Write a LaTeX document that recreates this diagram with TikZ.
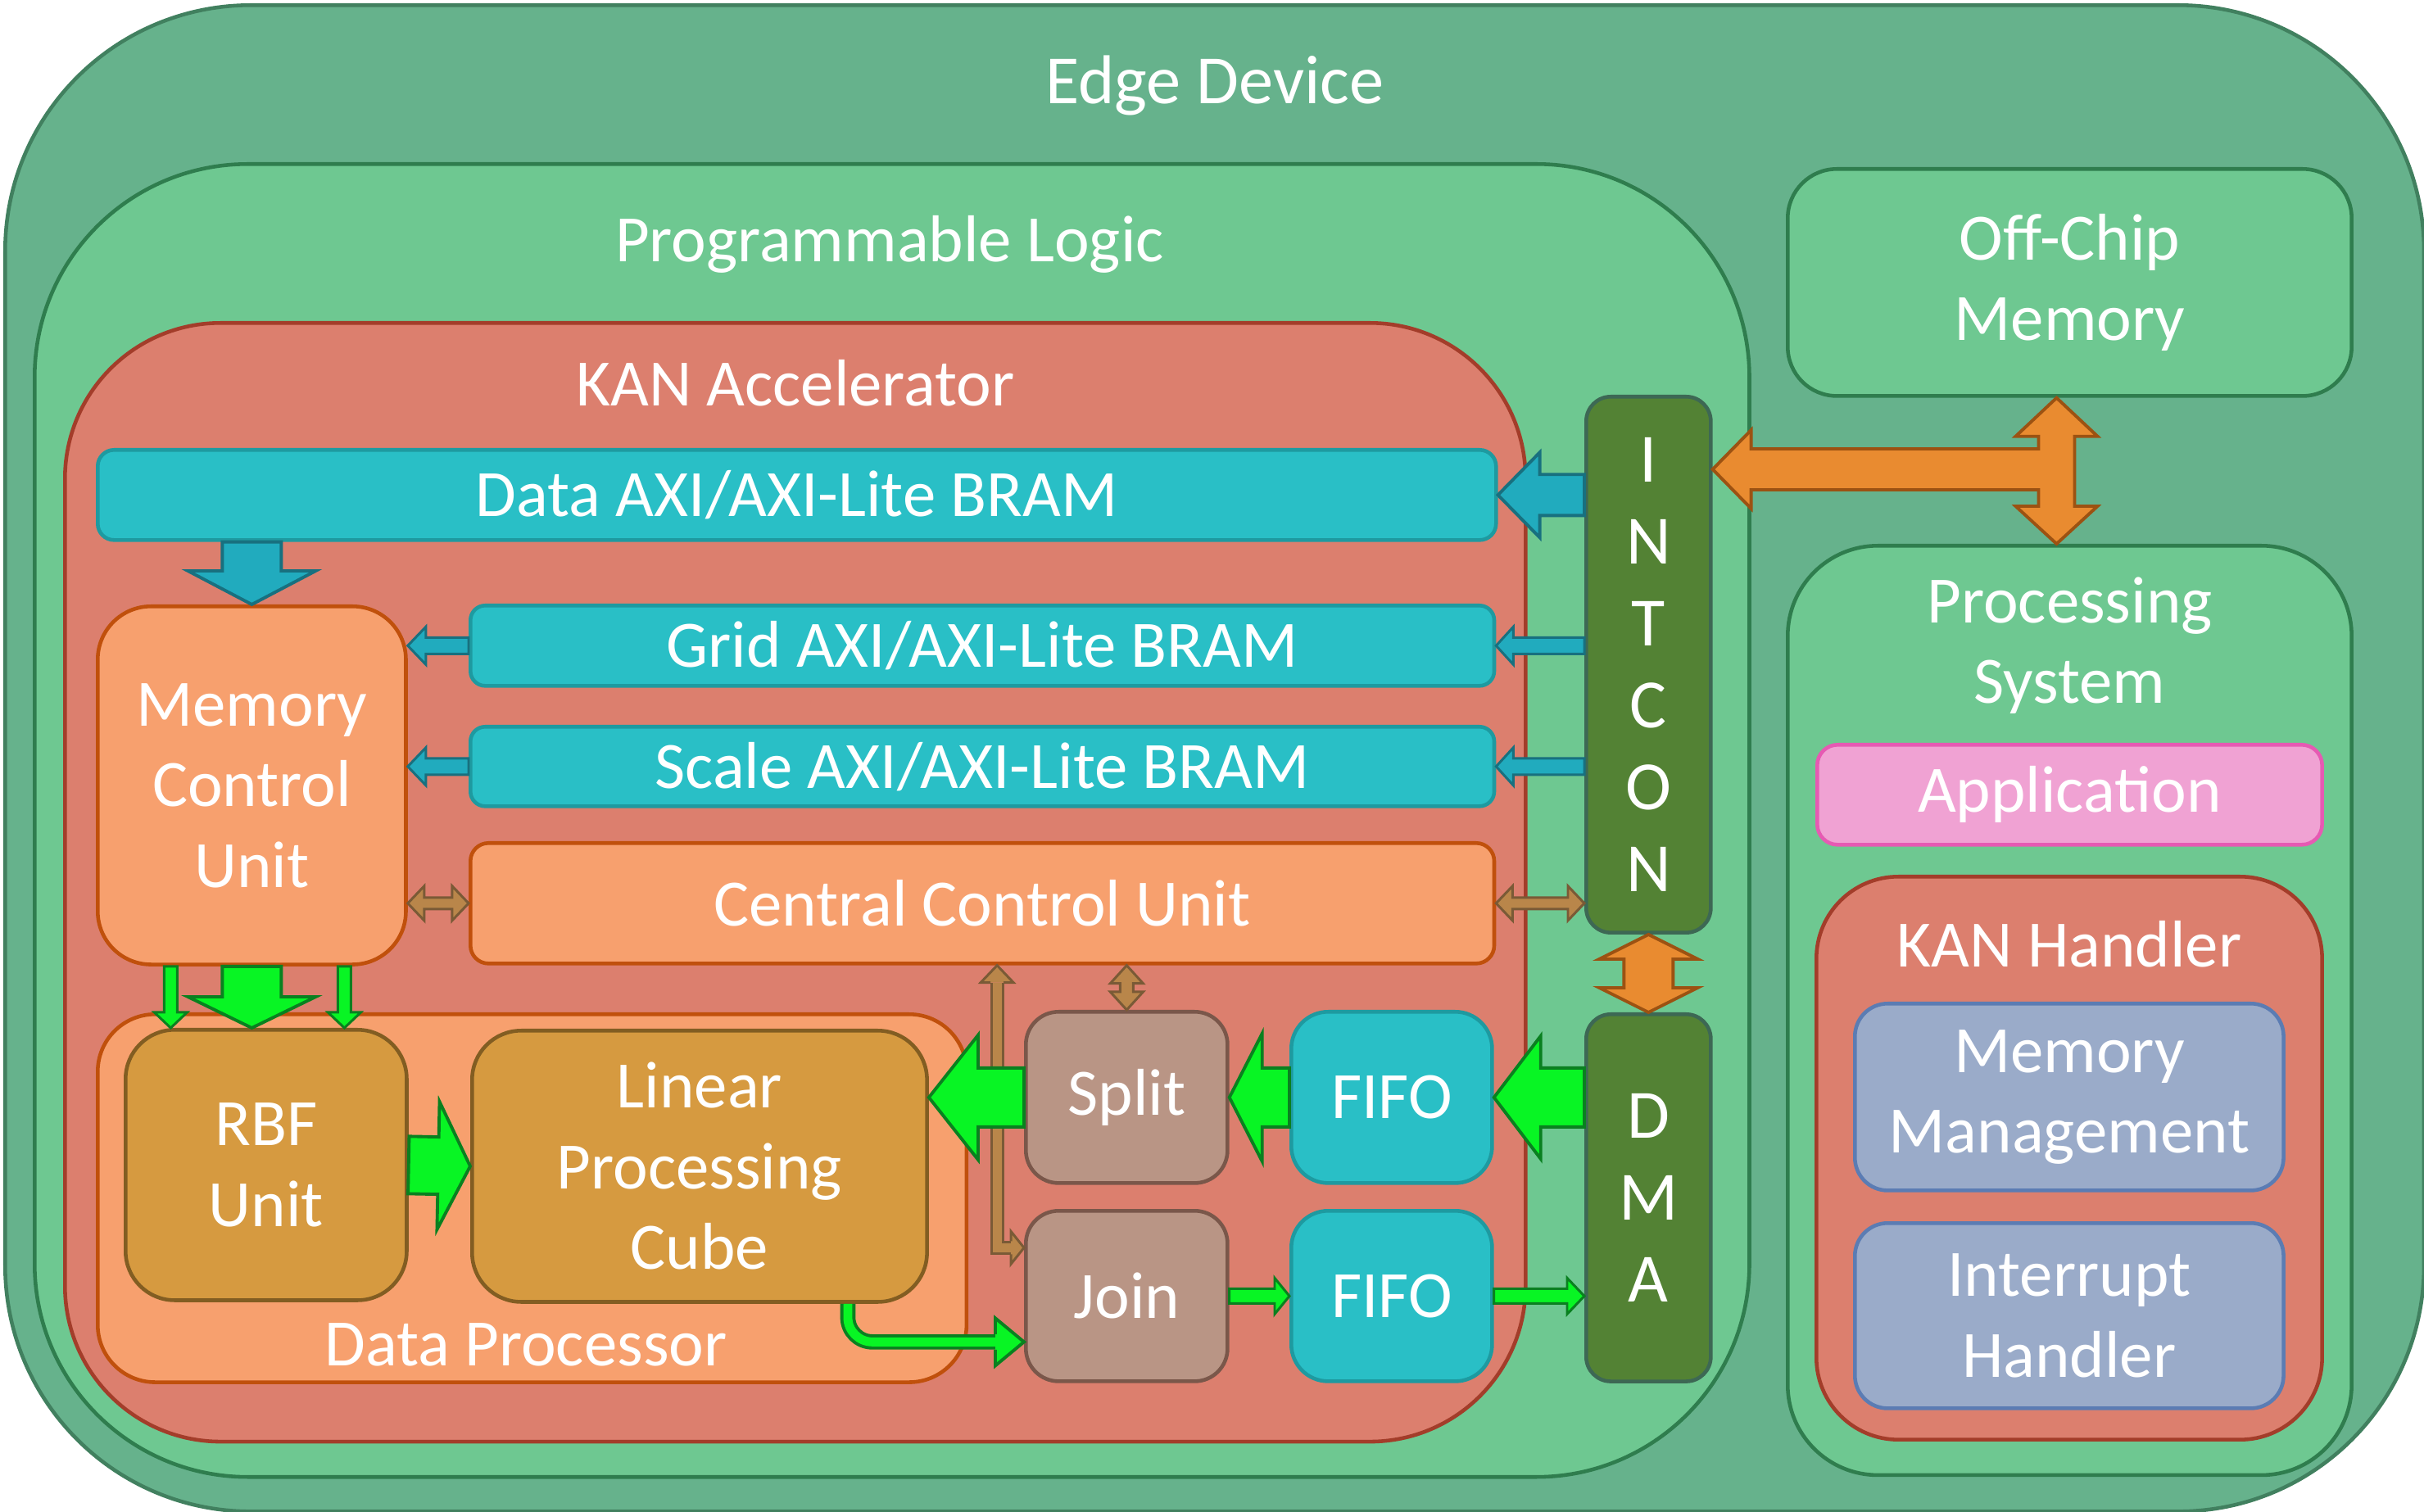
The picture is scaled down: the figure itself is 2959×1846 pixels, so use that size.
\documentclass[tikz,border=0pt]{standalone}
\usepackage{fontspec}
\setmainfont{Carlito}
\usepackage{tikz}
\usetikzlibrary{calc, positioning}

\definecolor{edgeFill}{HTML}{66B28C}
\definecolor{edgeLine}{HTML}{41805F}
\definecolor{plFill}{HTML}{6EC891}
\definecolor{plLine}{HTML}{2F7D4E}
\definecolor{kanFill}{HTML}{DC7F6E}
\definecolor{kanLine}{HTML}{A33D2A}
\definecolor{bramFill}{HTML}{29BFC6}
\definecolor{bramLine}{HTML}{1E9AA0}
\definecolor{ctrlFill}{HTML}{F7A06E}
\definecolor{ctrlLine}{HTML}{C0500C}
\definecolor{busFill}{HTML}{538234}
\definecolor{busLine}{HTML}{3D6854}
\definecolor{peFill}{HTML}{D69A40}
\definecolor{peLine}{HTML}{825D22}
\definecolor{sjFill}{HTML}{B99585}
\definecolor{sjLine}{HTML}{7A574A}
\definecolor{appFill}{HTML}{F0A2D3}
\definecolor{appLine}{HTML}{E65AB3}
\definecolor{drvFill}{HTML}{9AABC9}
\definecolor{drvLine}{HTML}{5B7CB3}
\definecolor{blueFill}{HTML}{21ABBE}
\definecolor{blueLine}{HTML}{18707F}
\definecolor{greenFill}{HTML}{08F524}
\definecolor{greenLine}{HTML}{0A8020}
\definecolor{brownFill}{HTML}{B9864A}
\definecolor{brownLine}{HTML}{7A5A36}
\definecolor{orangeFill}{HTML}{E98B30}
\definecolor{orangeLine}{HTML}{9C5212}

\newcommand{\lblfont}{\fontsize{23}{28}\selectfont}
\def\pxu{0.28453}

\tikzset{
  box/.style={draw, rectangle, anchor=north west, inner sep=0pt, line width=1.3pt,
    text=white, align=center, font=\lblfont},
  lbl/.style={text=white, align=center, inner sep=0pt, font=\lblfont},
  arr/.style={line width=1.1pt, line join=miter},
  thinarr/.style={line width=0.85pt, line join=miter},
  blueArr/.style={arr, fill=blueFill, draw=blueLine},
  greenArr/.style={arr, fill=greenFill, draw=greenLine},
  brownArr/.style={thinarr, fill=brownFill, draw=brownLine},
  orangeArr/.style={arr, fill=orangeFill, draw=orangeLine}
}

% block arrow: [style]{from}{tip}{shaft half width}{head half width}{head length}, sizes in px
\newcommand{\blockarrow}[6][]{%
  \filldraw[#1] let \p1=(#2), \p2=(#3),
      \n1={veclen(\x2-\x1,\y2-\y1)},
      \n2={(\x2-\x1)/(\n1)}, \n3={(\y2-\y1)/(\n1)},
      \n4={#4*\pxu}, \n5={#5*\pxu}, \n6={#6*\pxu} in
    ({\x1-(\n3)*(\n4)}, {\y1+(\n2)*(\n4)})
    -- ({\x2-(\n2)*(\n6)-(\n3)*(\n4)}, {\y2-(\n3)*(\n6)+(\n2)*(\n4)})
    -- ({\x2-(\n2)*(\n6)-(\n3)*(\n5)}, {\y2-(\n3)*(\n6)+(\n2)*(\n5)})
    -- (\p2)
    -- ({\x2-(\n2)*(\n6)+(\n3)*(\n5)}, {\y2-(\n3)*(\n6)-(\n2)*(\n5)})
    -- ({\x2-(\n2)*(\n6)+(\n3)*(\n4)}, {\y2-(\n3)*(\n6)-(\n2)*(\n4)})
    -- ({\x1+(\n3)*(\n4)}, {\y1-(\n2)*(\n4)}) -- cycle;}

% double headed block arrow: [style]{tip one}{tip two}{shaft}{head}{head length}
\newcommand{\dblockarrow}[6][]{%
  \filldraw[#1] let \p1=(#2), \p2=(#3),
      \n1={veclen(\x2-\x1,\y2-\y1)},
      \n2={(\x2-\x1)/(\n1)}, \n3={(\y2-\y1)/(\n1)},
      \n4={#4*\pxu}, \n5={#5*\pxu}, \n6={#6*\pxu} in
    (\p1)
    -- ({\x1+(\n2)*(\n6)-(\n3)*(\n5)}, {\y1+(\n3)*(\n6)+(\n2)*(\n5)})
    -- ({\x1+(\n2)*(\n6)-(\n3)*(\n4)}, {\y1+(\n3)*(\n6)+(\n2)*(\n4)})
    -- ({\x2-(\n2)*(\n6)-(\n3)*(\n4)}, {\y2-(\n3)*(\n6)+(\n2)*(\n4)})
    -- ({\x2-(\n2)*(\n6)-(\n3)*(\n5)}, {\y2-(\n3)*(\n6)+(\n2)*(\n5)})
    -- (\p2)
    -- ({\x2-(\n2)*(\n6)+(\n3)*(\n5)}, {\y2-(\n3)*(\n6)-(\n2)*(\n5)})
    -- ({\x2-(\n2)*(\n6)+(\n3)*(\n4)}, {\y2-(\n3)*(\n6)-(\n2)*(\n4)})
    -- ({\x1+(\n2)*(\n6)+(\n3)*(\n4)}, {\y1+(\n3)*(\n6)-(\n2)*(\n4)})
    -- ({\x1+(\n2)*(\n6)+(\n3)*(\n5)}, {\y1+(\n3)*(\n6)-(\n2)*(\n5)})
    -- cycle;}

% open head for bent arrows: [style]{base}{tip}{shaft}{head}
\newcommand{\arrowhead}[5][]{%
  \path[#1, draw=none] let \p1=(#2), \p2=(#3),
      \n1={veclen(\x2-\x1,\y2-\y1)},
      \n2={(\x2-\x1)/(\n1)}, \n3={(\y2-\y1)/(\n1)},
      \n4={#4*\pxu}, \n5={#5*\pxu} in
    ({\x1-(\n3)*(\n4)}, {\y1+(\n2)*(\n4)}) -- ({\x1-(\n3)*(\n5)}, {\y1+(\n2)*(\n5)})
    -- (\p2) -- ({\x1+(\n3)*(\n5)}, {\y1-(\n2)*(\n5)})
    -- ({\x1+(\n3)*(\n4)}, {\y1-(\n2)*(\n4)}) -- cycle;
  \path[#1, fill=none] let \p1=(#2), \p2=(#3),
      \n1={veclen(\x2-\x1,\y2-\y1)},
      \n2={(\x2-\x1)/(\n1)}, \n3={(\y2-\y1)/(\n1)},
      \n4={#4*\pxu}, \n5={#5*\pxu} in
    ({\x1-(\n3)*(\n4)}, {\y1+(\n2)*(\n4)}) -- ({\x1-(\n3)*(\n5)}, {\y1+(\n2)*(\n5)})
    -- (\p2) -- ({\x1+(\n3)*(\n5)}, {\y1-(\n2)*(\n5)})
    -- ({\x1+(\n3)*(\n4)}, {\y1-(\n2)*(\n4)});}

\begin{document}
\begin{tikzpicture}[x=0.01cm, y=-0.01cm]
  \useasboundingbox (0,0) rectangle (2959,1846);

  % containers
  \node[box, fill=edgeFill, draw=edgeLine, rounded corners=3cm,
        minimum width=29.51cm, minimum height=18.38cm] (edge) at (4,4) {};
  \node[lbl, font=\fontsize{24}{28}\selectfont] (edgeLbl) at ($(edge.north)+(0,100)$) {Edge Device};

  \node[box, fill=plFill, draw=plLine, rounded corners=2.6cm,
        minimum width=20.92cm, minimum height=16.02cm] (pl) at (40,198) {};
  \node[lbl] (plLbl) at ($(pl.north)+(-3,100)$) {Programmable Logic};

  \node[box, fill=kanFill, draw=kanLine, rounded corners=1.9cm,
        minimum width=17.82cm, minimum height=13.65cm] (kan) at (77,392) {};
  \node[lbl] (kanLbl) at ($(kan.north)+(0,76)$) {KAN Accelerator};

  \node[box, fill=plFill, draw=plLine, rounded corners=0.6cm,
        minimum width=6.88cm, minimum height=2.77cm] (offchip) at (2180,204) {Off-Chip\\Memory};

  \node[box, fill=plFill, draw=plLine, rounded corners=1.1cm,
        minimum width=6.88cm, minimum height=11.34cm] (ps) at (2180,664) {};
  \node[lbl] (psLbl) at ($(ps.north)+(0,124)$) {Processing\\System};
  \node[box, fill=appFill, draw=appLine, rounded corners=0.25cm,
        minimum width=6.16cm, minimum height=1.22cm] (app) at (2216,907) {Application};
  \node[box, fill=kanFill, draw=kanLine, rounded corners=1cm,
        minimum width=6.17cm, minimum height=6.87cm] (handler) at (2215,1068) {};
  \node[lbl] (handlerLbl) at ($(handler.north)+(0,85)$) {KAN Handler};
  \node[box, fill=drvFill, draw=drvLine, rounded corners=0.4cm,
        minimum width=5.23cm, minimum height=2.28cm] (memmgmt) at (2262,1223) {Memory\\Management};
  \node[box, fill=drvFill, draw=drvLine, rounded corners=0.4cm,
        minimum width=5.23cm, minimum height=2.26cm] (irq) at (2262,1491) {Interrupt\\Handler};

  % accelerator blocks
  \node[box, fill=bramFill, draw=bramLine, rounded corners=0.2cm,
        minimum width=17.06cm, minimum height=1.10cm] (databar) at (117,547) {Data AXI/AXI-Lite BRAM};
  \node[box, fill=ctrlFill, draw=ctrlLine, rounded corners=0.65cm,
        minimum width=3.76cm, minimum height=4.37cm] (mcu) at (117,738) {Memory\\Control\\Unit};
  \node[box, fill=bramFill, draw=bramLine, rounded corners=0.18cm,
        minimum width=12.49cm, minimum height=0.98cm] (grid) at (572,737) {Grid AXI/AXI-Lite BRAM};
  \node[box, fill=bramFill, draw=bramLine, rounded corners=0.18cm,
        minimum width=12.49cm, minimum height=0.97cm] (scale) at (572,885) {Scale AXI/AXI-Lite BRAM};
  \node[box, fill=ctrlFill, draw=ctrlLine, rounded corners=0.22cm,
        minimum width=12.49cm, minimum height=1.47cm] (ccu) at (572,1027) {Central Control Unit};
  \node[box, fill=busFill, draw=busLine, rounded corners=0.3cm, font=\fontsize{24}{28.4}\selectfont,
        minimum width=1.52cm, minimum height=6.54cm] (intcon) at (1934,482) {I\\N\\T\\C\\O\\N};
  \node[box, fill=busFill, draw=busLine, rounded corners=0.3cm, font=\fontsize{24}{28.4}\selectfont,
        minimum width=1.52cm, minimum height=4.48cm] (dma) at (1934,1236) {D\\M\\A};

  \node[box, fill=ctrlFill, draw=ctrlLine, rounded corners=0.7cm,
        minimum width=10.60cm, minimum height=4.49cm] (dp) at (117,1236) {};
  \node[lbl] (dpLbl) at (642,1642) {Data Processor};
  \node[box, fill=peFill, draw=peLine, rounded corners=0.6cm,
        minimum width=3.43cm, minimum height=3.30cm] (rbf) at (151,1255) {RBF\\Unit};
  \node[box, fill=peFill, draw=peLine, rounded corners=0.6cm,
        minimum width=5.55cm, minimum height=3.31cm] (lpc) at (574,1256) {Linear\\Processing\\Cube};

  \node[box, fill=sjFill, draw=sjLine, rounded corners=0.4cm,
        minimum width=2.46cm, minimum height=2.09cm] (split) at (1250,1233) {Split};
  \node[box, fill=sjFill, draw=sjLine, rounded corners=0.4cm,
        minimum width=2.46cm, minimum height=2.08cm] (join) at (1250,1476) {Join};
  \node[box, fill=bramFill, draw=bramLine, rounded corners=0.45cm,
        minimum width=2.45cm, minimum height=2.09cm] (fifoA) at (1574,1233) {FIFO};
  \node[box, fill=bramFill, draw=bramLine, rounded corners=0.45cm,
        minimum width=2.45cm, minimum height=2.08cm] (fifoB) at (1574,1476) {FIFO};

  % AXI side
  \blockarrow[blueArr]{mcu.north |- databar.south}{mcu.north}{36}{78}{41}
  \blockarrow[blueArr]{intcon.west |- databar.east}{databar.east}{25}{52}{51}
  \blockarrow[blueArr, thinarr]{intcon.west |- grid.east}{grid.east}{10}{23}{21}
  \blockarrow[blueArr, thinarr]{intcon.west |- scale.east}{scale.east}{10}{23}{21}
  \blockarrow[blueArr, thinarr]{grid.west}{mcu.east |- grid.west}{10}{23}{22}
  \blockarrow[blueArr, thinarr]{scale.west}{mcu.east |- scale.west}{10}{23}{22}
  \dblockarrow[brownArr]{mcu.east |- ccu.west}{ccu.west}{7}{21}{20}
  \dblockarrow[brownArr]{ccu.east}{intcon.west |- ccu.east}{7}{21}{20}

  % off-chip / PS / INTCON junction
  \coordinate (teeTop) at ($(offchip.south)+(-16,0)$);
  \coordinate (teeBot) at (teeTop |- ps.north);
  \coordinate (teeEnd) at ($(intcon.north east)+(0,91)$);
  \coordinate (teeMid) at (teeTop |- teeEnd);
  \filldraw[orangeArr] (teeTop) -- ($(teeTop)+(50,47)$) -- ($(teeTop)+(22,47)$)
    -- ($(teeBot)+(22,-46)$) -- ($(teeBot)+(50,-46)$) -- (teeBot)
    -- ($(teeBot)+(-50,-46)$) -- ($(teeBot)+(-22,-46)$)
    -- ($(teeMid)+(-22,25)$) -- ($(teeEnd)+(47,25)$) -- ($(teeEnd)+(47,48)$)
    -- (teeEnd) -- ($(teeEnd)+(47,-48)$) -- ($(teeEnd)+(47,-25)$)
    -- ($(teeMid)+(-22,-25)$) -- ($(teeTop)+(-22,47)$) -- ($(teeTop)+(-50,47)$) -- cycle;
  \dblockarrow[orangeArr]{intcon.south}{dma.north}{30}{60}{30}

  % data path
  \coordinate (mcuL) at ($(mcu.south)+(-99,0)$);
  \coordinate (mcuR) at ($(mcu.south)+(113,0)$);
  \blockarrow[greenArr]{mcu.south}{mcu.south |- rbf.north}{36}{78}{38}
  \blockarrow[greenArr, thinarr]{mcuL}{mcuL |- rbf.north}{8}{20}{19}
  \blockarrow[greenArr, thinarr]{mcuR}{mcuR |- rbf.north}{8}{20}{19}
  \blockarrow[greenArr]{rbf.east}{lpc.west}{35}{78}{39}
  \blockarrow[greenArr]{dma.west |- fifoA.east}{fifoA.east}{36}{75}{57}
  \blockarrow[greenArr]{fifoA.west}{split.east}{36}{78}{40}
  \blockarrow[greenArr, thinarr]{join.east}{fifoB.west}{9}{22}{18}
  \blockarrow[greenArr, thinarr]{fifoB.east}{dma.west |- fifoB.east}{9}{22}{21}

  % control to split / join
  \dblockarrow[brownArr]{split.north |- ccu.south}{split.north}{8}{20}{22}
  \coordinate (ccuOut) at ($(ccu.south)+(18,21)$);
  \coordinate (ccuTip) at (ccuOut |- ccu.south);
  \coordinate (joinCtl) at ($(join.west)+(-16,-59)$);
  \draw[brownLine, line width=0.85pt, double=brownFill, double distance=3.1pt] (ccuOut) |- (joinCtl);
  \arrowhead[brownArr]{ccuOut}{ccuTip}{8}{20}
  \arrowhead[brownArr]{joinCtl}{join.west |- joinCtl}{8}{20}

  \blockarrow[greenArr]{split.west}{lpc.east |- split.west}{36}{76}{60}

  % result back to join
  \coordinate (lpcOut) at ($(lpc.south)+(181,0)$);
  \coordinate (joinIn) at ($(join.west)+(-35,56)$);
  \draw[greenLine, line width=1.1pt, double=greenFill, double distance=3.1pt,
        rounded corners=0.3cm] (lpcOut) |- (joinIn);
  \arrowhead[greenArr]{joinIn}{join.west |- joinIn}{9.5}{29}
\end{tikzpicture}
\end{document}
